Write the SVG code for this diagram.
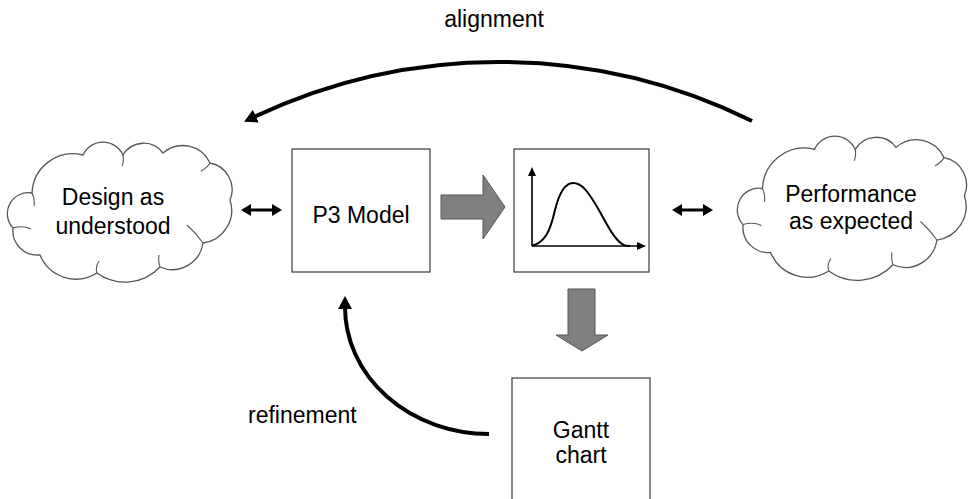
<svg xmlns="http://www.w3.org/2000/svg" width="969" height="499" viewBox="0 0 969 499">
<style>
  .lbl { font-family: "Liberation Sans", Arial, sans-serif; font-size: 23px; fill: #000; }
  .box { fill: #fff; stroke: #3a3a3a; stroke-width: 1.2; }
  .cloud { fill: #fff; stroke: #555; stroke-width: 1.3; }
  .crease { fill: none; stroke: #555; stroke-width: 1.1; }
  .arc { fill: none; stroke: #000; stroke-width: 4; }
  .dbl { fill: none; stroke: #000; stroke-width: 3; }
  .block { fill: #808080; stroke: #555; stroke-width: 1; }
  .axis { fill: none; stroke: #000; stroke-width: 1.6; }
  .curve { fill: none; stroke: #000; stroke-width: 2; }
</style>
<defs>
  <marker id="ah" markerUnits="userSpaceOnUse" markerWidth="14" markerHeight="14" viewBox="0 0 14 14" refX="2" refY="7" orient="auto">
    <path d="M0,0 L13,7 L0,14 z" fill="#000"/>
  </marker>
  <marker id="ah2" markerUnits="userSpaceOnUse" markerWidth="11" markerHeight="12" viewBox="0 0 11 12" refX="2" refY="6" orient="auto-start-reverse">
    <path d="M0,0 L10,6 L0,12 z" fill="#000"/>
  </marker>
  <marker id="ahs" markerUnits="userSpaceOnUse" markerWidth="9" markerHeight="8" viewBox="0 0 9 8" refX="1" refY="4" orient="auto">
    <path d="M0,0 L9,4 L0,8 z" fill="#000"/>
  </marker>
  <g id="cloudShape">
    <path class="cloud" vector-effect="non-scaling-stroke" d="M22,51 A41,41 0 0 1 73,13 A22,22 0 0 1 113,13 A24,24 0 0 1 153,11 A30,30 0 0 1 200,21 A27,27 0 0 1 220,58 A33,33 0 0 1 193,101 A31,31 0 0 1 150,125 A48,48 0 0 1 87,131 A39,39 0 0 1 30,113 A24.5,24.5 0 0 1 3,86 A21,21 0 0 1 22,51 Z"/>
    <path class="crease" vector-effect="non-scaling-stroke" d="M3,86 q10,-3 18,1 M22,51 q3,6 2,13 M113,13 q1,6 -1,11 M200,21 q-3,5 -9,8 M193,101 q-7,-10 -16,-18 M150,125 q-2,-6 -1,-12 M87,131 q-2,-6 2,-12"/>
  </g>
</defs>

<g id="connectors">
  <path class="arc" d="M752,121 A572,572 0 0 0 254,117" marker-end="url(#ah)"/>
  <path class="arc" d="M489,434 A144,127 0 0 1 345,307" marker-end="url(#ah)"/>
  <line class="dbl" x1="249" y1="210" x2="274" y2="210" marker-start="url(#ah2)" marker-end="url(#ah2)"/>
  <line class="dbl" x1="680" y1="210" x2="705" y2="210" marker-start="url(#ah2)" marker-end="url(#ah2)"/>
  <polygon class="block" points="441,195 483,195 483,175 505,207 483,239 483,219 441,219"/>
  <polygon class="block" points="568,289 595,289 595,335 608,335 582,351 556,335 568,335"/>
  <text class="lbl" x="494" y="27" text-anchor="middle">alignment</text>
  <text class="lbl" x="248" y="423">refinement</text>
</g>

<g id="design">
  <use href="#cloudShape" transform="translate(10,142)"/>
  <text class="lbl" x="113" y="205" text-anchor="middle">Design as</text>
  <text class="lbl" x="113" y="234" text-anchor="middle">understood</text>
</g>

<g id="p3model">
  <rect class="box" x="292" y="149" width="138" height="123"/>
  <text class="lbl" x="361" y="223" text-anchor="middle">P3 Model</text>
</g>

<g id="chart">
  <rect class="box" x="514" y="149" width="135" height="123"/>
  <line class="axis" x1="532" y1="246" x2="532" y2="175" marker-end="url(#ahs)"/>
  <line class="axis" x1="532" y1="246" x2="638" y2="246" marker-end="url(#ahs)"/>
  <path class="curve" d="M532,246 C545,242 550,232 555,210 C560,190 566,183 573,183 C582,183 588,192 596,205 C606,222 613,238 622,244 Q625,246 630,246"/>
</g>

<g id="performance">
  <use href="#cloudShape" transform="translate(740,136) scale(1.02,1.03)"/>
  <text class="lbl" x="851" y="202" text-anchor="middle">Performance</text>
  <text class="lbl" x="851" y="229" text-anchor="middle">as expected</text>
</g>

<g id="gantt">
  <rect class="box" x="512" y="378" width="138" height="130"/>
  <text class="lbl" x="581" y="438" text-anchor="middle">Gantt</text>
  <text class="lbl" x="581" y="463" text-anchor="middle">chart</text>
</g>
</svg>
